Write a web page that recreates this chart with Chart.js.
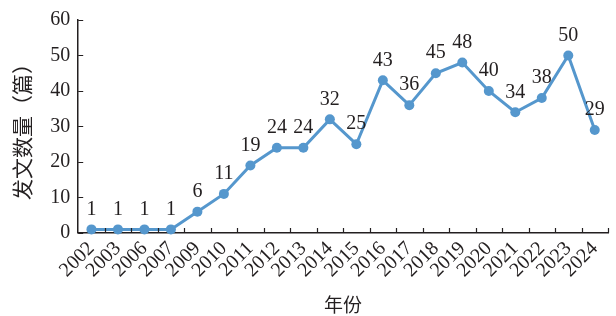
<!DOCTYPE html>
<html>
<head>
<meta charset="utf-8">
<script src="https://cdn.jsdelivr.net/npm/chart.js@4"></script>
<style>
  html, body { margin: 0; padding: 0; background: #fff; }
  #wrap { width: 616px; height: 316px; }
</style>
</head>
<body>
<div id="wrap"><canvas id="chart" width="616" height="316"></canvas></div>
<script>
const years = ['2002', '2003', '2006', '2007', '2009', '2010', '2011', '2012', '2013', '2014',
               '2015', '2016', '2017', '2018', '2019', '2020', '2021', '2022', '2023', '2024'];
const counts = [1, 1, 1, 1, 6, 11, 19, 24, 24, 32, 25, 43, 36, 45, 48, 40, 34, 38, 50, 29];
const yTicks = [0, 10, 20, 30, 40, 50, 60];

const lineColor = '#5597cd';
const serif = '"Liberation Serif", "Times New Roman", serif';
const cjk = '"Noto Sans CJK SC", sans-serif';

// value labels above each point
const valueLabels = {
    id: 'valueLabels',
    afterDatasetsDraw(chart) {
        const ctx = chart.ctx;
        const meta = chart.getDatasetMeta(0);
        ctx.save();
        ctx.font = '20px ' + serif;
        ctx.fillStyle = '#231f20';
        ctx.textAlign = 'center';
        ctx.textBaseline = 'bottom';
        meta.data.forEach((pt, i) => {
            ctx.fillText(String(counts[i]), pt.x, pt.y - 10);
        });
        ctx.restore();
    }
};

// short tick marks pointing into the plot
const innerTicks = {
    id: 'innerTicks',
    afterDraw(chart) {
        const ctx = chart.ctx;
        const area = chart.chartArea;
        const y = chart.scales.y;
        ctx.save();
        ctx.strokeStyle = '#231f20';
        ctx.lineWidth = 1.2;
        ctx.beginPath();
        yTicks.forEach(v => {
            const py = Math.round(y.getPixelForValue(v)) + 0.5;
            ctx.moveTo(area.left, py);
            ctx.lineTo(area.left + 5, py);
        });
        const n = years.length;
        const step = (area.right - area.left) / n;
        for (let i = 1; i <= n; i++) {
            const px = Math.round(area.left + i * step) + 0.5;
            ctx.moveTo(px, area.bottom);
            ctx.lineTo(px, area.bottom - 5);
        }
        ctx.stroke();
        ctx.restore();
    }
};

new Chart(document.getElementById('chart'), {
    type: 'line',
    data: {
        labels: years,
        datasets: [{
            data: counts,
            borderColor: lineColor,
            backgroundColor: lineColor,
            borderWidth: 3,
            pointRadius: 5,
            pointHoverRadius: 5,
            pointBackgroundColor: lineColor,
            pointBorderWidth: 0,
            tension: 0,
            clip: false
        }]
    },
    options: {
        responsive: false,
        animation: false,
        layout: { padding: { left: 9, right: 8, top: 9, bottom: 0 } },
        plugins: {
            legend: { display: false },
            tooltip: { enabled: false }
        },
        scales: {
            x: {
                offset: true,
                grid: { display: false, drawTicks: false },
                border: { display: true, color: '#231f20', width: 1.5 },
                ticks: {
                    color: '#231f20',
                    font: { family: serif, size: 20 },
                    minRotation: 45,
                    maxRotation: 45,
                    padding: 4,
                    autoSkip: false
                },
                title: {
                    display: true,
                    text: '年份',
                    color: '#231f20',
                    font: { family: cjk, size: 19 },
                    padding: { top: 7, bottom: 0 }
                }
            },
            y: {
                min: 0,
                max: 60,
                grid: { display: false, drawTicks: false },
                border: { display: true, color: '#231f20', width: 1.5 },
                ticks: {
                    stepSize: 10,
                    color: '#231f20',
                    font: { family: serif, size: 20 },
                    padding: 8
                },
                title: {
                    display: true,
                    text: '发文数量（篇）',
                    color: '#231f20',
                    font: { family: cjk, size: 21 },
                    padding: { top: 0, bottom: 8 }
                }
            }
        }
    },
    plugins: [valueLabels, innerTicks]
});
</script>
</body>
</html>
